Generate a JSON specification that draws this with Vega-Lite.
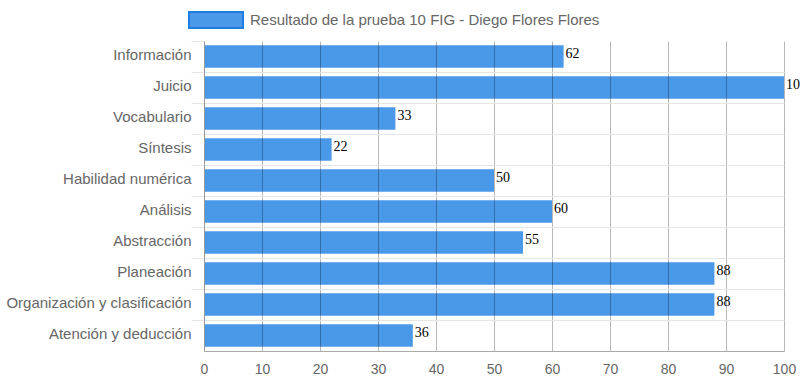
{
  "$schema": "https://vega.github.io/schema/vega-lite/v6.json",
  "width": 580,
  "height": 310,
  "autosize": {"type": "none"},
  "padding": {"left": 204, "top": 41, "right": 16, "bottom": 35},
  "background": "white",
  "config": {"view": {"stroke": null}, "font": "Liberation Sans"},
  "data": {
    "values": [
      {"area": "Información", "valor": 62, "serie": "Resultado de la prueba 10 FIG - Diego Flores Flores"},
      {"area": "Juicio", "valor": 100, "serie": "Resultado de la prueba 10 FIG - Diego Flores Flores"},
      {"area": "Vocabulario", "valor": 33, "serie": "Resultado de la prueba 10 FIG - Diego Flores Flores"},
      {"area": "Síntesis", "valor": 22, "serie": "Resultado de la prueba 10 FIG - Diego Flores Flores"},
      {"area": "Habilidad numérica", "valor": 50, "serie": "Resultado de la prueba 10 FIG - Diego Flores Flores"},
      {"area": "Análisis", "valor": 60, "serie": "Resultado de la prueba 10 FIG - Diego Flores Flores"},
      {"area": "Abstracción", "valor": 55, "serie": "Resultado de la prueba 10 FIG - Diego Flores Flores"},
      {"area": "Planeación", "valor": 88, "serie": "Resultado de la prueba 10 FIG - Diego Flores Flores"},
      {"area": "Organización y clasificación", "valor": 88, "serie": "Resultado de la prueba 10 FIG - Diego Flores Flores"},
      {"area": "Atención y deducción", "valor": 36, "serie": "Resultado de la prueba 10 FIG - Diego Flores Flores"}
    ]
  },
  "encoding": {
    "y": {
      "field": "area",
      "type": "nominal",
      "sort": null,
      "scale": {"paddingInner": 0, "paddingOuter": 0},
      "axis": {
        "title": null,
        "bandPosition": 0,
        "grid": true,
        "gridColor": "#e5e5e5",
        "gridOpacity": {"condition": {"test": "datum.value === 'Información'", "value": 0}, "value": 1},
        "tickColor": "#e5e5e5",
        "tickSize": 13,
        "labelPadding": 0,
        "labelOffset": -2,
        "labelFontSize": 15,
        "labelColor": "#666666",
        "labelFont": "Liberation Sans",
        "labelLimit": 0,
        "domainColor": "#999999",
        "zindex": 1
      }
    },
    "x": {
      "field": "valor",
      "type": "quantitative",
      "scale": {"domain": [0, 100], "nice": false},
      "axis": {
        "title": null,
        "values": [0, 10, 20, 30, 40, 50, 60, 70, 80, 90, 100],
        "grid": true,
        "gridColor": "#000000",
        "gridOpacity": 0.28,
        "ticks": false,
        "labelPadding": 11,
        "labelFontSize": 14,
        "labelColor": "#666666",
        "labelFont": "Liberation Sans",
        "labelFlush": false,
        "domainColor": "#aaaaaa",
        "zindex": 1
      }
    }
  },
  "layer": [
    {
      "mark": {"type": "bar", "height": {"band": 0.72}},
      "encoding": {
        "color": {
          "field": "serie",
          "type": "nominal",
          "scale": {"range": ["#4a98e8"]},
          "legend": {
            "title": null,
            "orient": "none",
            "legendX": -16,
            "legendY": -49,
            "padding": 0,
            "symbolType": "M-1,-0.3H1V0.3H-1Z",
            "symbolSize": 2916,
            "symbolOpacity": 1,
            "labelFontSize": 15,
            "labelLimit": 0,
            "labelColor": "#666666",
            "labelFont": "Liberation Sans",
            "labelOffset": 6,
            "encode": {
              "symbols": {"update": {"stroke": {"value": "#1e7be0"}, "strokeWidth": {"value": 2}, "fill": {"value": "#4a98e8"}, "opacity": {"value": 1}}}
            }
          }
        }
      }
    },
    {
      "mark": {"type": "text", "align": "left", "baseline": "alphabetic", "dx": 2, "dy": 1, "font": "Liberation Serif", "fontSize": 14, "color": "#000000"},
      "encoding": {"text": {"field": "valor", "type": "quantitative"}}
    }
  ]
}
